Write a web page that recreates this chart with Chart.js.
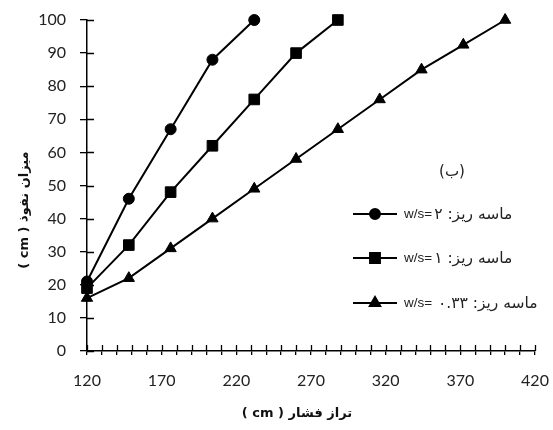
<!DOCTYPE html>
<html>
<head>
<meta charset="utf-8">
<script src="https://cdn.jsdelivr.net/npm/chart.js@4/dist/chart.umd.min.js"></script>
<style>
html,body{margin:0;padding:0;background:#fff;}
#wrap{width:553px;height:430px;}
</style>
</head>
<body>
<div id="wrap"><canvas id="c" width="553" height="430"></canvas></div>
<script>
// ---- data ----
const xCircle   = [120, 148, 176, 204, 232];
const yCircle   = [21, 46, 67, 88, 100];
const xSquare   = [120, 148, 176, 204, 232, 260, 288];
const ySquare   = [19, 32, 48, 62, 76, 90, 100];
const xTriangle = [120, 148, 176, 204, 232, 260, 288, 316, 344, 372, 400];
const yTriangle = [16, 22, 31, 40, 49, 58, 67, 76, 85, 92.5, 100];
const seriesPrefix = ['w/s=', 'w/s=', 'w/s= '];
const seriesNames  = ['ماسه ریز: ۲', 'ماسه ریز: ۱', 'ماسه ریز: ۰.۳۳'];
const pointStyles  = ['circle', 'rect', 'triangle'];
const xTitle = 'تراز فشار ( cm )';
const yTitle = 'میزان نفوذ ( cm )';
const panelTag = '(ب)';
const xMin = 120, xMax = 420, xStep = 10, xLabelEvery = 50;
const yMin = 0, yMax = 100, yStep = 10;

const toPts = (xs, ys) => xs.map((x, i) => ({x, y: ys[i]}));
const radii = [5.5, 7.5, 6.5];

const datasets = [
  toPts(xCircle, yCircle),
  toPts(xSquare, ySquare),
  toPts(xTriangle, yTriangle)
].map((d, i) => ({
  label: seriesPrefix[i] + seriesNames[i],
  data: d,
  borderColor: '#000',
  backgroundColor: '#000',
  borderWidth: 2,
  pointStyle: pointStyles[i],
  pointRadius: radii[i],
  pointHoverRadius: radii[i],
  pointBackgroundColor: '#000',
  pointBorderColor: '#000',
  pointBorderWidth: 1,
  tension: 0,
  fill: false,
  clip: false
}));

const decor = {
  id: 'decor',
  afterDraw(chart) {
    const ctx = chart.ctx;
    const xs = chart.scales.x, ys = chart.scales.y;
    const ca = chart.chartArea;
    ctx.save();
    // inner tick halves
    ctx.strokeStyle = '#000';
    ctx.lineWidth = 1.3;
    ctx.beginPath();
    xs.ticks.forEach(t => {
      const px = Math.round(xs.getPixelForValue(t.value)) + 0.5;
      ctx.moveTo(px, ca.bottom);
      ctx.lineTo(px, ca.bottom - 6);
    });
    ys.ticks.forEach(t => {
      const py = Math.round(ys.getPixelForValue(t.value)) + 0.5;
      ctx.moveTo(ca.left, py);
      ctx.lineTo(ca.left + 7, py);
    });
    ctx.stroke();

    // axis titles
    ctx.fillStyle = '#111';
    ctx.font = 'bold 13px "DejaVu Sans"';
    ctx.direction = 'rtl';
    ctx.textAlign = 'center';
    ctx.textBaseline = 'middle';
    ctx.fillText(xTitle, 297, 414);
    ctx.save();
    ctx.translate(25, 210);
    ctx.rotate(-Math.PI / 2);
    ctx.fillText(yTitle, 0, 0);
    ctx.restore();

    // panel tag
    ctx.font = '15px "DejaVu Sans"';
    ctx.fillStyle = '#222';
    ctx.fillText(panelTag, 452, 172);

    // legend
    const rowsY = [214, 258, 303];
    chart.data.datasets.forEach((ds, i) => {
      const y = rowsY[i];
      ctx.strokeStyle = '#000';
      ctx.lineWidth = 2;
      ctx.beginPath();
      ctx.moveTo(353, y);
      ctx.lineTo(397, y);
      ctx.stroke();
      ctx.fillStyle = '#000';
      Chart.helpers.drawPoint(ctx, {pointStyle: ds.pointStyle, radius: radii[i] - 0.5, rotation: 0, borderWidth: 1}, 375, y);
      ctx.fill();
      ctx.fillStyle = '#222';
      ctx.direction = 'ltr';
      ctx.textAlign = 'left';
      ctx.font = '13.5px "Liberation Sans"';
      ctx.fillText(seriesPrefix[i], 404, y);
      const w = ctx.measureText(seriesPrefix[i]).width;
      ctx.direction = 'rtl';
      ctx.textAlign = 'left';
      ctx.font = '15.5px "DejaVu Sans"';
      ctx.fillText(seriesNames[i], 404 + w + 2, y + 1);
    });
    ctx.restore();
  }
};

new Chart(document.getElementById('c'), {
  type: 'line',
  data: { datasets },
  options: {
    responsive: false,
    animation: false,
    events: [],
    layout: { padding: { top: 20, right: 18, left: 0, bottom: 0 } },
    plugins: { legend: { display: false }, tooltip: { enabled: false } },
    scales: {
      x: {
        type: 'linear',
        min: xMin, max: xMax,
        afterFit(s) { s.height = 79; s.paddingLeft = 0; s.paddingRight = 0; },
        grid: { display: true, drawOnChartArea: false, drawTicks: true, tickLength: 4, color: '#000', lineWidth: 1.3 },
        border: { display: true, color: '#000', width: 1.5 },
        ticks: {
          stepSize: xStep,
          autoSkip: false,
          maxRotation: 0,
          padding: 16,
          color: '#222',
          font: { family: 'Lato', size: 16 },
          callback: v => ((v - xMin) % xLabelEvery === 0 ? String(v) : '')
        }
      },
      y: {
        min: yMin, max: yMax,
        afterFit(s) { s.width = 87; s.paddingTop = 0; s.paddingBottom = 0; },
        grid: { display: true, drawOnChartArea: false, drawTicks: true, tickLength: 7, color: '#000', lineWidth: 1.3 },
        border: { display: true, color: '#000', width: 1.5 },
        ticks: {
          stepSize: yStep,
          padding: 14,
          color: '#222',
          font: { family: 'Lato', size: 16 }
        }
      }
    }
  },
  plugins: [decor]
});
</script>
</body>
</html>
